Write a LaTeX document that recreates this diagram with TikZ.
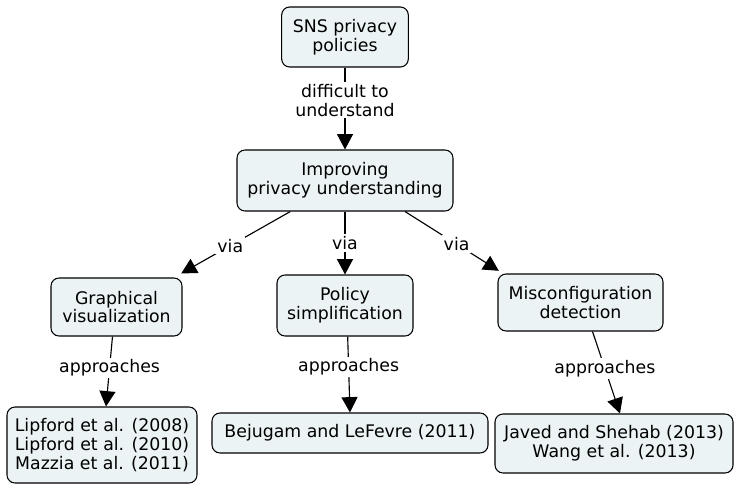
\documentclass[tikz,border=0pt]{standalone}
\usepackage{fontspec}
\setmainfont{DejaVu Sans}
\usetikzlibrary{arrows.meta}
\begin{document}
\begin{tikzpicture}[x=0.75pt,y=-0.75pt,
  concept/.style={draw=black,line width=0.8pt,fill=boxfill,rounded corners=6pt,
    align=center,inner sep=0pt,font=\fontsize{13}{14}\selectfont},
  link/.style={draw=black,line width=0.85pt,-{Triangle[length=11.5pt,width=12pt]}},
  lbl/.style={fill=white,inner sep=1.5pt,align=center,font=\fontsize{13}{14}\selectfont}]
\definecolor{boxfill}{HTML}{EBF3F5}
\useasboundingbox (0,0) rectangle (735,485);

% concepts
\node[concept,minimum width=95pt,minimum height=45pt] (sns) at (345,37) {SNS privacy\\policies};
\node[concept,minimum width=162pt,minimum height=45.75pt] (imp) at (345,180.5) {Improving\\privacy understanding};
\node[concept,minimum width=98.25pt,minimum height=43.5pt] (gv) at (116.5,307) {Graphical\\visualization};
\node[concept,minimum width=102pt,minimum height=45.75pt] (ps) at (345,305.5) {Policy\\simplification};
\node[concept,minimum width=123.75pt,minimum height=42.75pt] (misc) at (580.5,302.5) {Misconfiguration\\detection};
\node[concept,minimum width=142.5pt,minimum height=57pt] (lip) at (102,445) {Lipford et al. (2008)\\Lipford et al. (2010)\\Mazzia et al. (2011)};
\node[concept,minimum width=207pt,minimum height=30pt] (bej) at (350,433) {Bejugam and LeFevre (2011)};
\node[concept,minimum width=178.5pt,minimum height=44.25pt] (jav) at (614,443.5) {Javed and Shehab (2013)\\Wang et al. (2013)};

% links
\draw[link] (sns) -- node[lbl,pos=0.4] {difficult to\\understand} (imp);
\draw[link] ([xshift=-41pt]imp.south) -- node[lbl,pos=0.55] {via} ([xshift=-1pt,yshift=3pt]gv.north east);
\draw[link] (imp.south) -- node[lbl,pos=0.5] {via} (ps.north);
\draw[link] ([xshift=45pt]imp.south) -- node[lbl,pos=0.55] {via} ([xshift=1pt,yshift=2pt]misc.north west);
\draw[link] ([xshift=-3pt]gv.south) -- node[lbl,pos=0.45] {approaches} ([xshift=3pt]lip.north);
\draw[link] ([xshift=2pt]ps.south) -- node[lbl,pos=0.4] {approaches} (bej.north);
\draw[link] ([xshift=9pt]misc.south) -- node[lbl,pos=0.45] {approaches} ([xshift=4.5pt]jav.north);
\end{tikzpicture}
\end{document}
